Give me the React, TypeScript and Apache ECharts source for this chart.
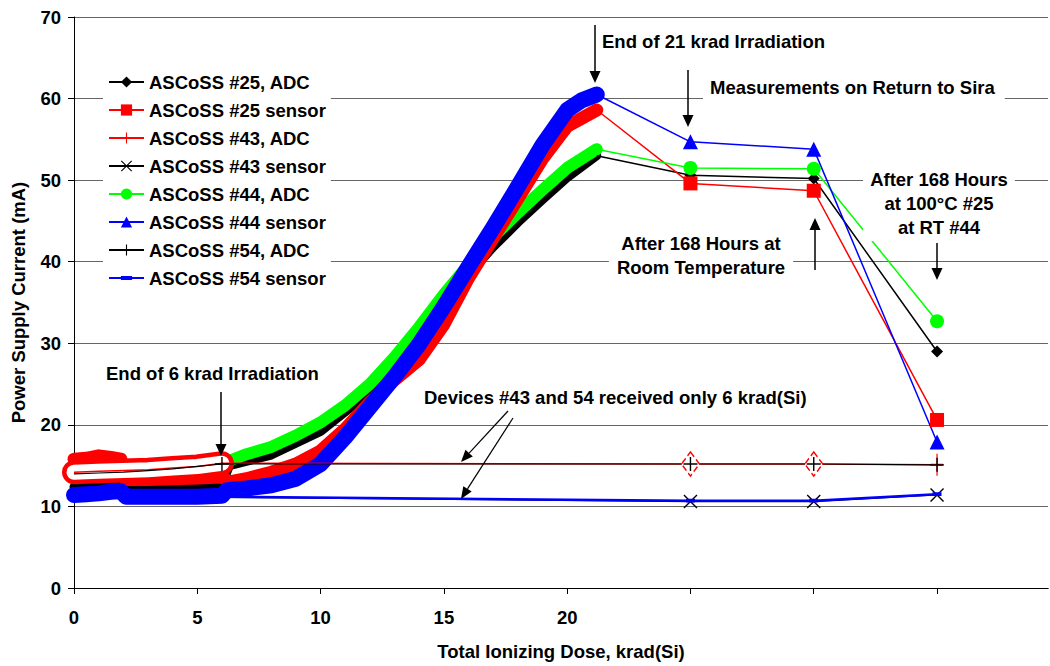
import React, { useEffect, useRef } from 'react';
import * as echarts from 'echarts';

const FONT = '"Liberation Sans", Arial, Helvetica, sans-serif';
const RED = '#ff0000';
const GREEN = '#00ff00';
const BLUE = '#0000ff';
const BLACK = '#000000';

// ---------- data (dose in krad(Si), current in mA) ----------
// dense in-beam measurements
const band25AdcX = [0, 2, 4, 6, 6.3, 8, 10, 12, 14, 15, 16, 17, 18, 19, 20, 21.2];
const band25AdcY = [12.4, 12.5, 12.5, 12.6, 15.0, 16.3, 19.2, 24.0, 31.0, 34.6, 38.4, 41.8, 44.8, 47.6, 50.3, 53.0];

const band44AdcX = [6.3, 7, 8, 9, 10, 11, 12, 13, 14, 15, 16, 17, 18, 19, 20, 21.2];
const band44AdcY = [15.6, 16.4, 17.3, 18.7, 20.3, 22.4, 25.0, 28.3, 32.0, 36.0, 39.6, 43.0, 46.0, 48.8, 51.5, 53.8];

const band25SensorX = [0, 0.5, 1, 1.5, 1.9, 2.1, 3, 4, 5, 6, 6.3, 7, 8, 9, 10, 11, 12, 13, 14, 15, 16, 17, 18, 19, 20, 21.2];
const band25SensorY = [15.8, 15.9, 16.2, 16.0, 15.8, 13.3, 13.3, 13.4, 13.5, 13.6, 13.0, 13.4, 14.2, 15.2, 16.8, 19.5, 22.8, 25.5, 28.0, 32.3, 38.0, 42.9, 47.7, 52.6, 56.6, 58.6];

const band44SensorX = [0, 0.5, 1, 1.5, 1.9, 2.1, 3, 4, 5, 6, 6.2, 7, 8, 9, 10, 11, 12, 13, 14, 15, 16, 17, 18, 19, 20, 20.6, 21.2];
const band44SensorY = [11.4, 11.5, 11.6, 11.8, 11.9, 11.2, 11.2, 11.2, 11.2, 11.3, 12.0, 12.2, 12.6, 13.4, 15.2, 18.5, 22.2, 25.9, 29.9, 34.5, 39.4, 44.2, 49.2, 54.3, 58.6, 59.8, 60.5];

// post-irradiation measurements
const tailX = [21.2, 25, 30, 35];
const tail25Adc = [53.0, 50.6, 50.2, 29.0];
const tail25Sensor = [58.6, 49.6, 48.7, 20.6];
const tail44Adc = [53.8, 51.5, 51.4, 32.7];
const tail44Sensor = [60.5, 54.7, 53.8, 17.9];

// devices #43 and #54 (6 krad only)
const adc43X = [0, 1, 2, 3, 4, 5, 6, 25, 30, 35];
const adc43Y = [14.2, 14.3, 14.4, 14.5, 14.7, 14.9, 15.3, 15.2, 15.2, 15.1];

const adc54X = [0, 1, 2, 3, 4, 5, 6, 25, 30, 35];
const adc54Y = [14.0, 14.1, 14.2, 14.4, 14.6, 14.9, 15.2, 15.2, 15.2, 15.1];

const sensor43X = [0, 2, 4, 6, 25, 30, 35];
const sensor43Y = [11.3, 11.2, 11.2, 11.1, 10.6, 10.6, 11.4];

const sensor54X = [0, 2, 4, 6, 25, 30, 35];
const sensor54Y = [11.3, 11.2, 11.2, 11.2, 10.7, 10.7, 11.5];

const legendNames = [
  'ASCoSS #25, ADC',
  'ASCoSS #25 sensor',
  'ASCoSS #43, ADC',
  'ASCoSS #43 sensor',
  'ASCoSS #44, ADC',
  'ASCoSS #44 sensor',
  'ASCoSS #54, ADC',
  'ASCoSS #54 sensor',
];

const xTicks = [0, 5, 10, 15, 20, 25, 30, 35];
const xLabels = [0, 5, 10, 15, 20];

// ---------- helpers ----------
const PLUS = 'path://M9,0H11V9H20V11H11V20H9V11H0V9H9Z';
const CROSS = 'path://M1.4,0L10,8.6L18.6,0L20,1.4L11.4,10L20,18.6L18.6,20L10,11.4L1.4,20L0,18.6L8.6,10L0,1.4Z';
const SMALLRECT = 'path://M0,0L0.01,0M0,3.6H9V7.4H0ZM9,11L9.01,11';

const pairs = (xs: number[], ys: number[]) => xs.map((x, i) => [x, ys[i]]);

const band = (name: string, xs: number[], ys: number[], color: string, width: number) => ({
  name,
  type: 'line',
  data: pairs(xs, ys),
  symbol: 'none',
  silent: true,
  lineStyle: { color, width, cap: 'round', join: 'round' },
  itemStyle: { color },
  emphasis: { disabled: true },
});

const tail = (name: string, ys: number[], color: string, symbol: string, size: any) => ({
  name,
  type: 'line',
  data: tailX.map((x, i) => (i === 0 ? { value: [x, ys[i]], symbol: 'none' } : [x, ys[i]])),
  symbol,
  symbolSize: size,
  showAllSymbol: true,
  lineStyle: { color, width: 1.5 },
  itemStyle: { color },
  emphasis: { disabled: true },
});

const arrow = (x1: number, y1: number, x2: number, y2: number, head = 12, w = 11, lw = 1.5) => {
  const len = Math.hypot(x2 - x1, y2 - y1);
  const ux = (x2 - x1) / len;
  const uy = (y2 - y1) / len;
  const bx = x2 - ux * head;
  const by = y2 - uy * head;
  const px = -uy;
  const py = ux;
  return [
    { type: 'line', z: 100, shape: { x1, y1, x2: bx, y2: by }, style: { stroke: BLACK, lineWidth: lw } },
    {
      type: 'polygon',
      z: 100,
      shape: { points: [[x2, y2], [bx + (px * w) / 2, by + (py * w) / 2], [bx - (px * w) / 2, by - (py * w) / 2]] },
      style: { fill: BLACK },
    },
  ];
};

const label = (text: string, x: number, y: number, align: string, bg?: boolean, padding?: number[]) => ({
  type: 'text',
  z: 99,
  x,
  y,
  style: {
    text,
    fill: BLACK,
    fontFamily: FONT,
    fontWeight: 'bold',
    fontSize: 18.5,
    lineHeight: 24,
    align,
    verticalAlign: 'middle',
    backgroundColor: bg ? '#ffffff' : undefined,
    padding: padding,
  },
});

export default function App() {
  const ref = useRef<HTMLDivElement>(null);
  useEffect(() => {
    const chart = echarts.init(ref.current!, null, { renderer: 'svg' });

    const early43X = adc43X.filter((x) => x <= 6);
    const early43Y = adc43Y.slice(0, early43X.length);

    const adc43Data = adc43X.map((x, i) => {
      const v = [x, adc43Y[i]];
      if (x <= 6) return { value: v, symbol: 'none' };
      if (x < 35)
        return {
          value: v,
          symbol: 'diamond',
          symbolSize: [18, 24],
          itemStyle: { color: '#ffffff', borderColor: RED, borderWidth: 1.5, borderType: 'dashed' },
        };
      return { value: v, symbolSize: [12, 22] };
    });

    const adc54Data = adc54X.map((x, i) => (x < 6 ? { value: [x, adc54Y[i]], symbol: 'none' } : [x, adc54Y[i]]));
    const s43Data = sensor43X.map((x, i) => (x <= 6 ? { value: [x, sensor43Y[i]], symbol: 'none' } : [x, sensor43Y[i]]));
    const s54Data = sensor54X.map((x, i) => (x <= 6 ? { value: [x, sensor54Y[i]], symbol: 'none' } : [x, sensor54Y[i]]));

    const option: any = {
      animation: false,
      backgroundColor: '#ffffff',
      grid: { left: 74, right: 2, top: 17, bottom: 74, containLabel: false },
      xAxis: [
        {
          type: 'value',
          min: 0,
          max: 39.5,
          interval: 5,
          name: 'Total Ionizing Dose, krad(Si)',
          nameLocation: 'middle',
          nameGap: 54,
          nameTextStyle: { fontFamily: FONT, fontWeight: 'bold', fontSize: 18.5, color: BLACK },
          axisLine: { show: true, onZero: false, lineStyle: { color: BLACK, width: 1 } },
          axisTick: { show: true, length: 6, lineStyle: { color: BLACK }, customValues: xTicks },
          axisLabel: {
            customValues: xLabels,
            margin: 20,
            fontFamily: FONT,
            fontWeight: 'bold',
            fontSize: 18.5,
            color: BLACK,
            formatter: (v: number) => (v <= 20 ? String(v) : ''),
          },
          splitLine: { show: false },
        },
        {
          type: 'value',
          position: 'top',
          min: 0,
          max: 39.5,
          axisLine: { show: true, lineStyle: { color: BLACK, width: 1 } },
          axisTick: { show: false },
          axisLabel: { show: false },
          splitLine: { show: false },
        },
      ],
      yAxis: {
        type: 'value',
        min: 0,
        max: 70,
        interval: 10,
        name: 'Power Supply Current (mA)',
        nameLocation: 'middle',
        nameGap: 46,
        nameTextStyle: { fontFamily: FONT, fontWeight: 'bold', fontSize: 18.5, color: BLACK },
        axisLine: { show: true, lineStyle: { color: BLACK, width: 1 } },
        axisTick: { show: true, length: 6, lineStyle: { color: BLACK } },
        axisLabel: { margin: 13, fontFamily: FONT, fontWeight: 'bold', fontSize: 18.5, color: BLACK },
        splitLine: { show: true, lineStyle: { color: '#666666', width: 1 } },
      },
      legend: {
        data: legendNames,
        orient: 'vertical',
        left: 103,
        top: 67,
        itemWidth: 35,
        itemHeight: 14,
        itemGap: 8,
        padding: [5, 5, 5, 5],
        backgroundColor: '#ffffff',
        selectedMode: false,
        textStyle: { fontFamily: FONT, fontWeight: 'bold', fontSize: 18.5, color: BLACK, lineHeight: 20 },
      },
      series: [
        band('band25adc', band25AdcX, band25AdcY, BLACK, 9),
        band('band44adc', band44AdcX, band44AdcY, GREEN, 12),
        band('band25sensor', band25SensorX, band25SensorY, RED, 13),
        band('band44sensor', band44SensorX, band44SensorY, BLUE, 16),
        band('band43adcOuter', early43X, early43Y, RED, 24),
        band('band43adcInner', early43X, early43Y, '#ffffff', 15),
        {
          name: 'ASCoSS #43, ADC',
          type: 'line',
          data: adc43Data,
          symbol: PLUS,
          symbolSize: 14,
          showAllSymbol: true,
          lineStyle: { color: RED, width: 1.5 },
          itemStyle: { color: RED },
          emphasis: { disabled: true },
        },
        {
          name: 'ASCoSS #54, ADC',
          type: 'line',
          data: adc54Data,
          symbol: PLUS,
          symbolSize: 14,
          showAllSymbol: true,
          lineStyle: { color: BLACK, width: 1.2 },
          itemStyle: { color: BLACK },
          emphasis: { disabled: true },
        },
        {
          name: 'ASCoSS #43 sensor',
          type: 'line',
          data: s43Data,
          symbol: CROSS,
          symbolSize: 14,
          showAllSymbol: true,
          lineStyle: { color: BLACK, width: 1.2 },
          itemStyle: { color: BLACK },
          emphasis: { disabled: true },
        },
        {
          name: 'ASCoSS #54 sensor',
          type: 'line',
          data: s54Data,
          symbol: SMALLRECT,
          symbolSize: [9, 11],
          showAllSymbol: true,
          lineStyle: { color: BLUE, width: 2.5 },
          itemStyle: { color: BLUE },
          emphasis: { disabled: true },
        },
        tail('ASCoSS #25, ADC', tail25Adc, BLACK, 'diamond', 12),
        tail('ASCoSS #25 sensor', tail25Sensor, RED, 'rect', 14),
        tail('ASCoSS #44, ADC', tail44Adc, GREEN, 'circle', 14),
        tail('ASCoSS #44 sensor', tail44Sensor, BLUE, 'triangle', 15),
      ],
      graphic: [
        label('End of 6 krad Irradiation', 106, 373, 'left'),
        label('Devices #43 and 54 received only 6 krad(Si)', 424, 397, 'left'),
        label('End of 21 krad Irradiation', 602, 41, 'left'),
        label('Measurements on Return to Sira', 703, 87, 'left', true, [3, 10, 7, 7]),
        label('After 168 Hours at\nRoom Temperature', 701, 255, 'center', true, [2, 8, 2, 8]),
        label('After 168 Hours\nat 100°C #25\nat RT #44', 939, 203, 'center', true, [2, 7, 2, 7]),
        ...arrow(221, 392, 221, 456),
        ...arrow(595, 25, 595, 83),
        ...arrow(688, 70, 688, 127),
        ...arrow(815, 270, 815, 218),
        ...arrow(937, 243, 937, 280),
        ...arrow(508, 411, 461, 462, 12, 10, 1.2),
        ...arrow(513, 418, 461, 499, 12, 10, 1.2),
      ],
    };

    chart.setOption(option);
    return () => chart.dispose();
  }, []);

  return (
    <div
      ref={ref}
      style={{ position: 'fixed', left: 0, top: 0, width: 1050, height: 666, background: '#ffffff' }}
    />
  );
}
